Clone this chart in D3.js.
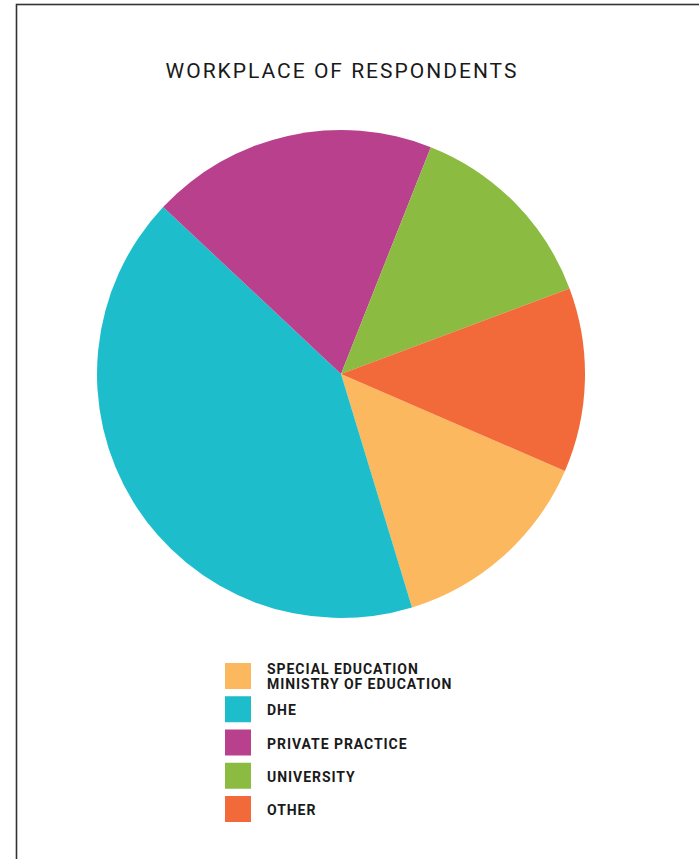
<!DOCTYPE html>
<html>
<head>
<meta charset="utf-8">
<script src="https://cdn.jsdelivr.net/npm/d3@7"></script>
<style>
  body { margin: 0; background: white; }
</style>
</head>
<body>
<div id="chart-area"></div>
<script>
var categories = ["SPECIAL EDUCATION\nMINISTRY OF EDUCATION", "DHE", "PRIVATE PRACTICE", "UNIVERSITY", "OTHER"];
var values = [13.8, 41.7, 19.0, 13.3, 12.2];
var colors = ["#fbb85e", "#1ebdcb", "#b8408c", "#8bbb41", "#f26a3a"];

var width = 699;
var height = 859;

var svg = d3.select("#chart-area")
  .append("svg")
  .attr("width", width)
  .attr("height", height);

// frame, cut off at right and bottom
svg.append("rect")
  .attr("x", 16.5)
  .attr("y", 4.5)
  .attr("width", 720)
  .attr("height", 900)
  .attr("fill", "none")
  .attr("stroke", "#333")
  .attr("stroke-width", 1.6);

svg.append("text")
  .attr("x", 342)
  .attr("y", 78)
  .attr("text-anchor", "middle")
  .attr("font-family", "Roboto")
  .attr("font-weight", 400)
  .attr("font-size", "21px")
  .attr("letter-spacing", "2px")
  .attr("fill", "#1a1a1a")
  .text("WORKPLACE OF RESPONDENTS");

var data = categories.map((c, i) => ({ name: c, value: values[i], color: colors[i] }));

var pie = d3.pie()
  .sort(null)
  .value(d => d.value)
  .startAngle(113.4 * Math.PI / 180)
  .endAngle(113.4 * Math.PI / 180 + 2 * Math.PI);

var arc = d3.arc()
  .innerRadius(0)
  .outerRadius(244);

var g = svg.append("g")
  .attr("transform", "translate(341,374)");

g.selectAll("path")
  .data(pie(data))
  .enter().append("path")
  .attr("d", arc)
  .attr("fill", d => d.data.color);

// legend
var y = d3.scalePoint()
  .domain(categories)
  .range([663, 796]);

var legend = svg.selectAll(".legend")
  .data(data)
  .enter().append("g")
  .attr("class", "legend")
  .attr("transform", d => "translate(225," + y(d.name) + ")");

legend.append("rect")
  .attr("width", 26)
  .attr("height", 26)
  .attr("fill", d => d.color);

legend.each(function(d) {
  var lines = d.name.split("\n");
  var y0 = lines.length > 1 ? 11 : 19;
  lines.forEach((l, i) => {
    d3.select(this).append("text")
      .attr("x", 42)
      .attr("y", y0 + i * 15)
      .attr("font-family", "Roboto")
      .attr("font-weight", 700)
      .attr("font-size", "14px")
      .attr("letter-spacing", "0.95px")
      .attr("fill", "#1a1a1a")
      .text(l);
  });
});
</script>
</body>
</html>
